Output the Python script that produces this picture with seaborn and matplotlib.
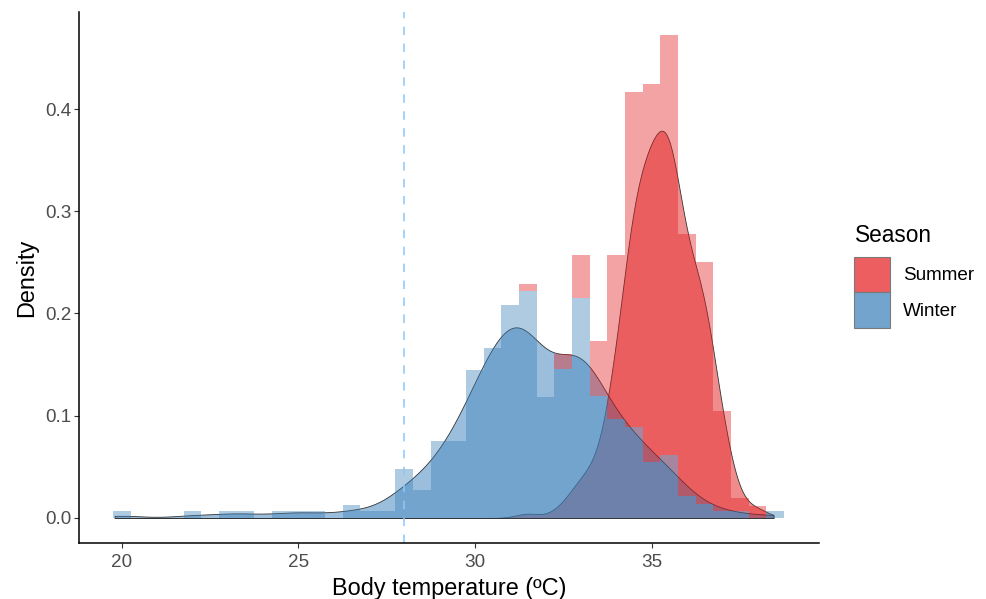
import numpy as np
import pandas as pd
import matplotlib
matplotlib.use("Agg")
import matplotlib.pyplot as plt
from matplotlib.patches import Patch
from matplotlib.legend_handler import HandlerPatch
from matplotlib.colors import to_rgba
import seaborn as sns

# ---------------- data ----------------
seasons = ["Summer", "Winter"]
season_colors = ["#E41A1C", "#377EB8"]

# histogram densities (bin width 0.5, bins centred on the listed temperatures)
winter_temp = [20.0, 22.0, 23.0, 23.5, 24.5, 25.0, 25.5, 26.5, 27.0, 27.5,
               28.0, 28.5, 29.0, 29.5, 30.0, 30.5, 31.0, 31.5, 32.0, 32.5,
               33.0, 33.5, 34.0, 34.5, 35.0, 35.5, 36.0, 36.5, 37.0, 37.5, 38.5]
winter_density = [0.0065, 0.0065, 0.0065, 0.0065, 0.0065, 0.0065, 0.0065, 0.013, 0.0065, 0.0065,
                  0.0476, 0.0274, 0.0756, 0.0756, 0.145, 0.166, 0.208, 0.222, 0.118, 0.146,
                  0.215, 0.119, 0.097, 0.089, 0.055, 0.062, 0.021, 0.014, 0.0065, 0.0065, 0.0065]
summer_temp = [31.5, 32.5, 33.0, 33.5, 34.0, 34.5, 35.0, 35.5, 36.0, 36.5, 37.0, 37.5, 38.0]
summer_density = [0.007, 0.014, 0.042, 0.054, 0.160, 0.328, 0.369, 0.410, 0.257, 0.236,
                  0.098, 0.0135, 0.0117]

threshold_temp = 28.0
x_ticks = [20, 25, 30, 35]
y_ticks = [0.0, 0.1, 0.2, 0.3, 0.4]
y_tick_labels = ["0.0", "0.1", "0.2", "0.3", "0.4"]

# smoothing bandwidths for the density curves (deg C)
kde_bw = {"Summer": 0.345, "Winter": 0.62}

df = pd.DataFrame({
    "temp": winter_temp + summer_temp,
    "density": winter_density + summer_density,
    "season": ["Winter"] * len(winter_temp) + ["Summer"] * len(summer_temp),
})
palette = dict(zip(seasons, season_colors))

# ---------------- figure ----------------
sns.set_theme(style="ticks")
plt.rcParams["font.family"] = ["Liberation Sans", "DejaVu Sans"]

fig = plt.figure(figsize=(9.87, 5.99), dpi=100)
ax = fig.add_axes([79 / 987, 56 / 599, 740 / 987, 531 / 599])

# dashed reference line (under the other layers)
ax.axvline(threshold_temp, color="#8DC8FA", linestyle=(0, (5.3, 5.3)), linewidth=1.15)

# density curves
for s in seasons:
    sub = df[df["season"] == s]
    x = sub["temp"].to_numpy()
    w = sub["density"].to_numpy()
    sd = float(np.sqrt(np.cov(x, aweights=w)))
    sns.kdeplot(x=x, weights=w, bw_method=kde_bw[s] / sd, cut=40, clip=(19.8, 38.45),
                gridsize=600, fill=True, color=palette[s], alpha=0.5,
                edgecolor="#333333", linewidth=0.6, ax=ax)

# stacked histogram on top
sns.histplot(data=df, x="temp", weights="density", hue="season", hue_order=seasons,
             palette=palette, multiple="stack", stat="count", binwidth=0.5,
             binrange=(19.75, 38.75), alpha=0.4, linewidth=0, legend=False, ax=ax)

ax.set_xlim(18.79, 39.74)
ax.set_ylim(-0.0245, 0.4949)
ax.set_xticks(x_ticks)
ax.set_xticklabels([str(t) for t in x_ticks])
ax.set_yticks(y_ticks)
ax.set_yticklabels(y_tick_labels)

sns.despine(ax=ax)
for sp in ["left", "bottom"]:
    ax.spines[sp].set_color("black")
    ax.spines[sp].set_linewidth(1.1)
ax.tick_params(axis="both", length=3.6, width=0.8, color="#333333",
               labelsize=13.6, labelcolor="#4D4D4D")
ax.tick_params(axis="x", pad=4.5)
ax.tick_params(axis="y", pad=2.0)

ax.set_xlabel("Body temperature (ºC)", fontsize=16.9, color="black", labelpad=4.5)
ax.set_ylabel("Density", fontsize=16.9, color="black", labelpad=5)
ax.grid(False)

# legend
fig.text(855 / 987, 1 - 236 / 599, "Season", fontsize=16.3, color="black",
         ha="left", va="center")
handles = [Patch(facecolor=to_rgba(c, 0.7), edgecolor="#7A7A7A", linewidth=0.8)
           for c in season_colors]
leg = fig.legend(handles, seasons, loc="upper left",
                 bbox_to_anchor=(854 / 987, 1 - 257 / 599), frameon=False,
                 fontsize=13.6, handlelength=1.9, handleheight=2.5,
                 labelspacing=0.0, handletextpad=0.68, borderaxespad=0, borderpad=0,
                 handler_map={Patch: HandlerPatch(ypad=0.0)})
for t in leg.get_texts():
    t.set_color("black")

fig.savefig("out.png", dpi=100)
